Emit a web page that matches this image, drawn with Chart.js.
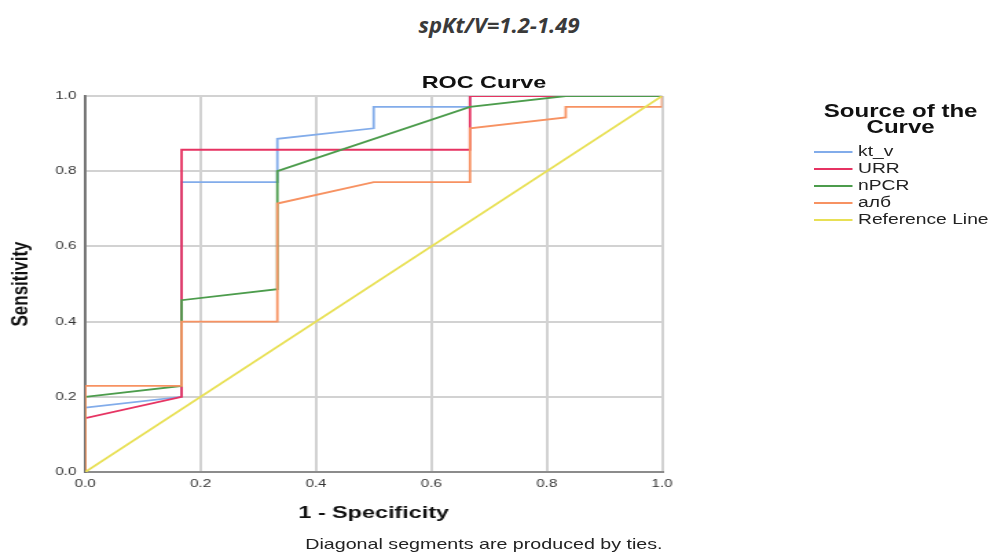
<!DOCTYPE html>
<html>
<head>
<meta charset="utf-8">
<script src="https://cdn.jsdelivr.net/npm/chart.js@4/dist/chart.umd.min.js"></script>
<style>
  html, body { margin: 0; padding: 0; background: #fff; }
  body { width: 990px; height: 553px; position: relative; overflow: hidden; }
  #heading {
    position: absolute; left: 0; width: 990px; top: 9px;
    text-align: center; font: italic 700 22px 'Open Sans', sans-serif; color: #3a3a3a;
    padding-left: 4px;
  }
  /* the SPSS output is drawn narrow and then stretched sideways */
  #stage {
    position: absolute; left: 0; top: 0; width: 720px; height: 553px;
    transform: scaleX(1.375); transform-origin: 0 0;
    font-family: 'Liberation Sans', Arial, sans-serif; color: #111;
  }
  #chart { position: absolute; left: 0; top: 0; }
  #plotTitle {
    position: absolute; left: 252px; width: 200px; top: 73px;
    text-align: center; font-weight: 700; font-size: 17px;
  }
  #legend { position: absolute; left: 588px; top: 103px; width: 140px; }
  #legend .title {
    width: 134px; text-align: center; font-weight: 700; font-size: 17.5px; line-height: 16px;
  }
  #legend .item { position: relative; height: 17.1px; font-size: 14px; line-height: 17px; }
  #legend .item .line { position: absolute; left: 4px; top: 7.5px; width: 28px; height: 2px; }
  #legend .item span { position: absolute; left: 36px; top: 0; white-space: nowrap; color: #222; }
  #legend .items { margin-top: 8px; }
  #footnote {
    position: absolute; left: 222px; top: 536px; font-size: 14.3px; color: #222; white-space: nowrap;
  }
</style>
</head>
<body>
<div id="heading">spKt/V=1.2-1.49</div>
<div id="stage">
  <canvas id="chart" width="720" height="553"></canvas>
  <div id="plotTitle">ROC Curve</div>
  <div id="legend">
    <div class="title">Source of the<br>Curve</div>
    <div class="items"></div>
  </div>
  <div id="footnote">Diagonal segments are produced by ties.</div>
</div>
<script>
// ROC curves: x = 1 - specificity, y = sensitivity
const ktvX = [0, 0, 0.167, 0.167, 0.333, 0.333, 0.5, 0.5, 0.667, 0.667, 1];
const ktvY = [0, 0.171, 0.2, 0.771, 0.771, 0.886, 0.914, 0.971, 0.971, 1, 1];

const urrX = [0, 0, 0.167, 0.167, 0.667, 0.667, 1];
const urrY = [0, 0.143, 0.2, 0.857, 0.857, 1, 1];

const npcrX = [0, 0, 0.167, 0.167, 0.333, 0.333, 0.667, 0.833, 1];
const npcrY = [0, 0.2, 0.229, 0.457, 0.486, 0.8, 0.971, 1, 1];

const albX = [0, 0, 0.167, 0.167, 0.333, 0.333, 0.5, 0.667, 0.667, 0.833, 0.833, 1, 1];
const albY = [0, 0.229, 0.229, 0.4, 0.4, 0.714, 0.771, 0.771, 0.914, 0.943, 0.971, 0.971, 1];

const refX = [0, 1];
const refY = [0, 1];

const SERIES_NAMES = ['kt_v', 'URR', 'nPCR', 'алб', 'Reference Line'];
const SERIES_COLORS = ['#82acea', '#e63362', '#4c9c4c', '#f79262', '#e8e055'];
const SERIES_X = [ktvX, urrX, npcrX, albX, refX];
const SERIES_Y = [ktvY, urrY, npcrY, albY, refY];

const AXIS_TICKS = [0, 0.2, 0.4, 0.6, 0.8, 1.0];
const FONT = "'Liberation Sans', Arial, sans-serif";

function toPoints(xs, ys) {
  return xs.map((x, i) => ({ x, y: ys[i] }));
}

const datasets = SERIES_NAMES.map((name, i) => ({
  label: name,
  data: toPoints(SERIES_X[i], SERIES_Y[i]),
  borderColor: SERIES_COLORS[i],
  borderWidth: 1.8,
  pointRadius: 0,
  showLine: true,
  tension: 0,
  // later series sit on top
  order: SERIES_NAMES.length - i,
}));

const tickOpts = {
  color: '#333',
  font: { family: FONT, size: 11 },
  callback: (v) => v.toFixed(1),
};

new Chart(document.getElementById('chart'), {
  type: 'scatter',
  data: { datasets },
  options: {
    responsive: false,
    animation: false,
    layout: { padding: { left: 0, top: 96, right: 238.5, bottom: 25 } },
    plugins: { legend: { display: false }, tooltip: { enabled: false } },
    scales: {
      x: {
        type: 'linear',
        min: 0,
        max: 1,
        afterBuildTicks: (scale) => { scale.ticks = AXIS_TICKS.map((v) => ({ value: v })); },
        afterFit: (scale) => { scale.height = 56; },
        grid: { color: '#d2d2d2', lineWidth: 2, drawTicks: false },
        border: { color: '#8c8c8c', width: 2 },
        ticks: { ...tickOpts, padding: 5, maxRotation: 0 },
        title: {
          display: true,
          text: '1 - Specificity',
          color: '#111',
          font: { family: FONT, size: 17, weight: 'bold' },
          padding: { top: 0, bottom: 4 },
        },
      },
      y: {
        type: 'linear',
        min: 0,
        max: 1,
        afterBuildTicks: (scale) => { scale.ticks = AXIS_TICKS.map((v) => ({ value: v })); },
        afterFit: (scale) => { scale.width = 62; },
        grid: { color: '#d2d2d2', lineWidth: 2, drawTicks: false },
        border: { color: '#6e6e6e', width: 1.8 },
        ticks: { ...tickOpts, padding: 6.5 },
        title: {
          display: true,
          text: 'Sensitivity',
          color: '#111',
          font: { family: FONT, size: 17, weight: 'bold' },
          padding: { top: 5, bottom: 0 },
        },
      },
    },
  },
});

// legend rows built from the same series lists
const items = document.querySelector('#legend .items');
SERIES_NAMES.forEach((name, i) => {
  const row = document.createElement('div');
  row.className = 'item';
  row.innerHTML = `<div class="line" style="background:${SERIES_COLORS[i]}"></div><span>${name}</span>`;
  items.appendChild(row);
});
</script>
</body>
</html>
